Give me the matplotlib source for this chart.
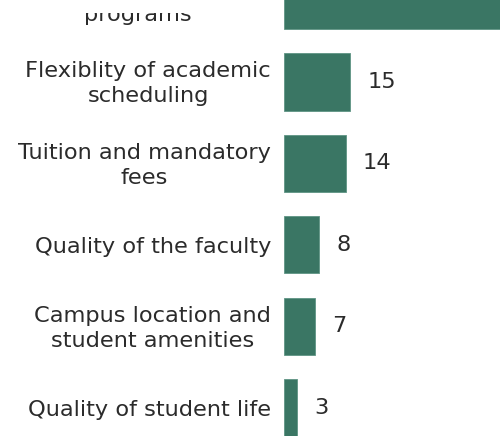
import matplotlib.pyplot as plt
from matplotlib.patches import Rectangle

categories = ['Reputation of academic\nprograms', 'Flexiblity of academic\nscheduling',
              'Tuition and mandatory\nfees', 'Quality of the faculty',
              'Campus location and\nstudent amenities', 'Quality of student life']
values = [55, 15, 14, 8, 7, 3]

BAR = '#3a7664'
TXT = '#2b2b2b'

fig = plt.figure(figsize=(5, 4.36), dpi=100, facecolor='white')
# axes is placed so the picture shows a cropped view, like the reference
ax = fig.add_axes([284 / 500, 0, 220 / 500, 1])
ax.set_xlim(0, 50)
ax.set_ylim(5.344, -0.006)

ypos = list(range(len(categories)))
ax.barh(ypos, values, height=0.7, color=BAR, edgecolor='#5e9484', linewidth=0.6)

for y, v, lab in zip(ypos, values, categories):
    ax.text(-2.95, y + 0.02, lab, ha='right', va='center', multialignment='center',
            fontsize=16.2, color=TXT, linespacing=1.3, clip_on=False)
    ax.text(v + 3.9, y, str(v), ha='left', va='center', fontsize=16.2, color=TXT)

ax.axis('off')

# the top label is clipped in the source view
fig.patches.append(Rectangle((0, 1 - 13 / 436), 280 / 500, 13 / 436,
                             transform=fig.transFigure, facecolor='white',
                             edgecolor='none', zorder=10))

fig.savefig('out.png', dpi=100, facecolor='white')
